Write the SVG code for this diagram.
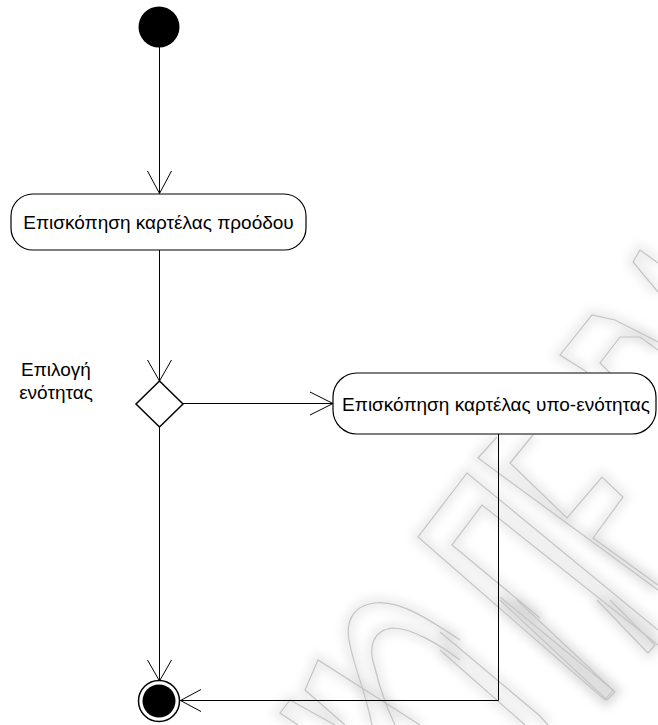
<svg xmlns="http://www.w3.org/2000/svg" width="658" height="725" viewBox="0 0 658 725">
  <defs>
    <style>
      .edge { fill: none; stroke: #000; stroke-width: 1; }
      .act { fill: #fff; stroke: #000; stroke-width: 1.2; }
      .lbl { font-family: "Liberation Sans", Arial, sans-serif; font-size: 19px; fill: #000; }
      .wm-line { fill: none; stroke: #c4c4c4; stroke-width: 1.2; }
      .wm-glow { fill: none; stroke: #000; stroke-opacity: 0.07; stroke-width: 12; }
    </style>
    <filter id="soft" x="-20%" y="-20%" width="140%" height="140%">
      <feGaussianBlur stdDeviation="5"/>
    </filter>
    <!-- emblem outline; stroke comes from the <use> that draws it -->
    <g id="emblem-shape">
      <!-- upper right chevrons -->
      <polyline points="658,263 640,250 633,262 658,292"/>
      <polyline points="587,372 560,355 592,315 615,320 658,342"/>
      <polyline points="610,373 600,363 620,337 640,337 658,350"/>
      <!-- notched block -->
      <polyline points="497,437 478,458 658,590"/>
      <polyline points="533,435 510,463 567,518 602,477 623,497 593,538 658,585"/>
      <!-- pointed bands -->
      <polyline points="658,630 467,473 418,537 605,700 613,690 500,597"/>
      <polyline points="658,645 482,505 452,545 540,618"/>
      <!-- long strips -->
      <polyline points="440,632 540,716 548,725"/>
      <polyline points="440,650 525,725"/>
      <polyline points="500,600 607,700 615,692 517,600"/>
      <polyline points="597,600 648,653 655,645 610,600"/>
      <!-- rounded U forms -->
      <path d="M460,640 C430,620 400,600 375,603 C350,606 345,625 350,645 C355,670 365,690 372,725"/>
      <path d="M460,660 C440,645 412,628 393,628 C372,630 368,648 375,668 C380,690 388,710 395,725"/>
      <!-- lower left strips -->
      <polyline points="345,725 305,690 318,660 420,725"/>
      <polyline points="298,725 280,713 290,700 335,725"/>
    </g>
  </defs>

  <rect width="658" height="725" fill="#fff"/>

  <!-- background emblem, faint grey outlines over a soft halo -->
  <g id="emblem">
    <use href="#emblem-shape" class="wm-glow" filter="url(#soft)"/>
    <use href="#emblem-shape" class="wm-line"/>
  </g>

  <!-- connectors -->
  <g id="connectors">
    <line class="edge" x1="159.5" y1="47" x2="159.5" y2="194"/>
    <polyline class="edge" points="147.5,171 159.5,193.5 171.5,171"/>

    <line class="edge" x1="159.5" y1="250" x2="159.5" y2="381"/>
    <polyline class="edge" points="147.5,360 159.5,381 171.5,360"/>

    <line class="edge" x1="183" y1="403.5" x2="333" y2="403.5"/>
    <polyline class="edge" points="310,392 333,403.5 310,415"/>

    <line class="edge" x1="159.5" y1="427" x2="159.5" y2="681"/>
    <polyline class="edge" points="147.5,660 159.5,681 171.5,660"/>

    <polyline class="edge" points="498.5,434 498.5,700.5 180,700.5"/>
    <polyline class="edge" points="201,689.5 180.5,700.5 201,711.5"/>
  </g>

  <!-- start -->
  <g id="start">
    <circle cx="159" cy="27" r="20.5" fill="#000"/>
  </g>

  <!-- activity: progress card -->
  <g id="progress-card">
    <rect class="act" x="11" y="194" width="295" height="56" rx="22" ry="22"/>
    <text class="lbl" x="158.5" y="229" text-anchor="middle">Επισκόπηση καρτέλας προόδου</text>
  </g>

  <!-- decision -->
  <g id="choose-unit">
    <polygon points="159.5,381 183,404 159.5,427 136,404" fill="#fff" stroke="#000" stroke-width="1.5"/>
    <text class="lbl" x="56" y="376" text-anchor="middle">Επιλογή</text>
    <text class="lbl" x="56" y="399" text-anchor="middle">ενότητας</text>
  </g>

  <!-- activity: sub-unit card -->
  <g id="subunit-card">
    <rect class="act" x="333" y="373" width="323" height="61" rx="24" ry="24"/>
    <text class="lbl" x="496" y="411" text-anchor="middle">Επισκόπηση καρτέλας υπο-ενότητας</text>
  </g>

  <!-- end -->
  <g id="end">
    <circle cx="159" cy="701" r="20.5" fill="#fff" stroke="#000" stroke-width="1.5"/>
    <circle cx="159" cy="701" r="16.5" fill="#000"/>
  </g>
</svg>
